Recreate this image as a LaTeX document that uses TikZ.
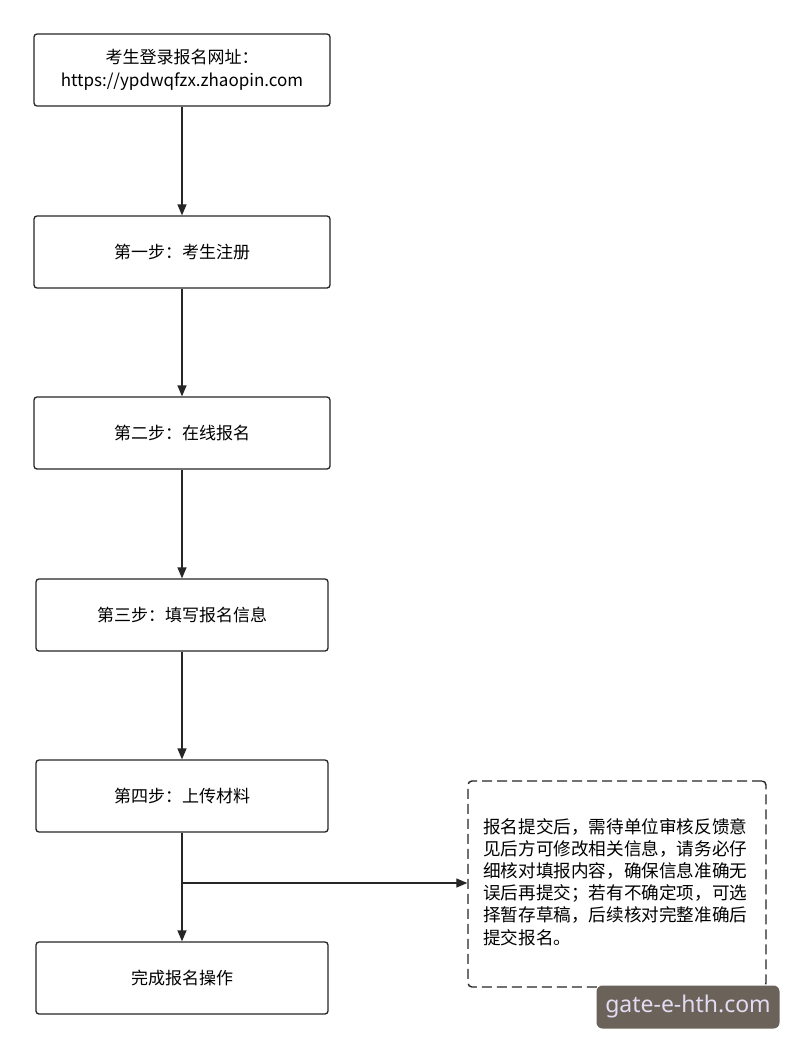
\documentclass[tikz,border=0pt]{standalone}
\usepackage{fontspec}
\setmainfont{Noto Sans CJK SC}
\newfontfamily\wmfont{Noto Sans}
\usetikzlibrary{arrows.meta}
\begin{document}
\begin{tikzpicture}[x=1pt,y=-1pt,
  stepbox/.style={draw=black!85,line width=1.3pt,rounded corners=3pt,minimum width=296pt,minimum height=72pt,align=center,font=\fontsize{17}{23}\selectfont,inner sep=0pt},
  conn/.style={draw=black!85,line width=1.3pt,-{Triangle[length=11pt,width=9pt]}}]
\useasboundingbox[fill=white] (0,0) rectangle (800,1049);
\node[stepbox] (b1) at (182,70) {考生登录报名网址：\\https://ypdwqfzx.zhaopin.com};
\node[stepbox] (b2) at (182,252) {第一步：考生注册};
\node[stepbox] (b3) at (182,433) {第二步：在线报名};
\node[stepbox,minimum width=292pt] (b4) at (182,615) {第三步：填写报名信息};
\node[stepbox,minimum width=292pt] (b5) at (182,796) {第四步：上传材料};
\node[stepbox,minimum width=292pt] (b6) at (182,978) {完成报名操作};
\node[draw=black!85,dash pattern=on 10pt off 5pt,line width=1.4pt,rounded corners=4pt,minimum width=298pt,minimum height=206pt,inner sep=0pt] (note) at (617,884) {};
\node[align=left,font=\fontsize{17.6}{22.2}\selectfont,inner sep=0pt,anchor=north west] (nt) at (483,818) {报名提交后，需待单位审核反馈意\\见后方可修改相关信息，请务必仔\\细核对填报内容，确保信息准确无\\误后再提交；若有不确定项，可选\\择暂存草稿，后续核对完整准确后\\提交报名。};
\draw[conn] (b1) -- (b2);
\draw[conn] (b2) -- (b3);
\draw[conn] (b3) -- (b4);
\draw[conn] (b4) -- (b5);
\draw[conn] (b5) -- (b6);
\coordinate (j) at (182,883);
\draw[conn] (j) -- (note.west |- j);
\node[fill={rgb,255:red,107;green,98;blue,89},rounded corners=6pt,minimum width=183pt,minimum height=43pt,text={rgb,255:red,225;green,220;blue,242},font=\wmfont\fontsize{23}{26}\selectfont] (wm) at (688,1007) {gate-e-hth.com};
\end{tikzpicture}
\end{document}
